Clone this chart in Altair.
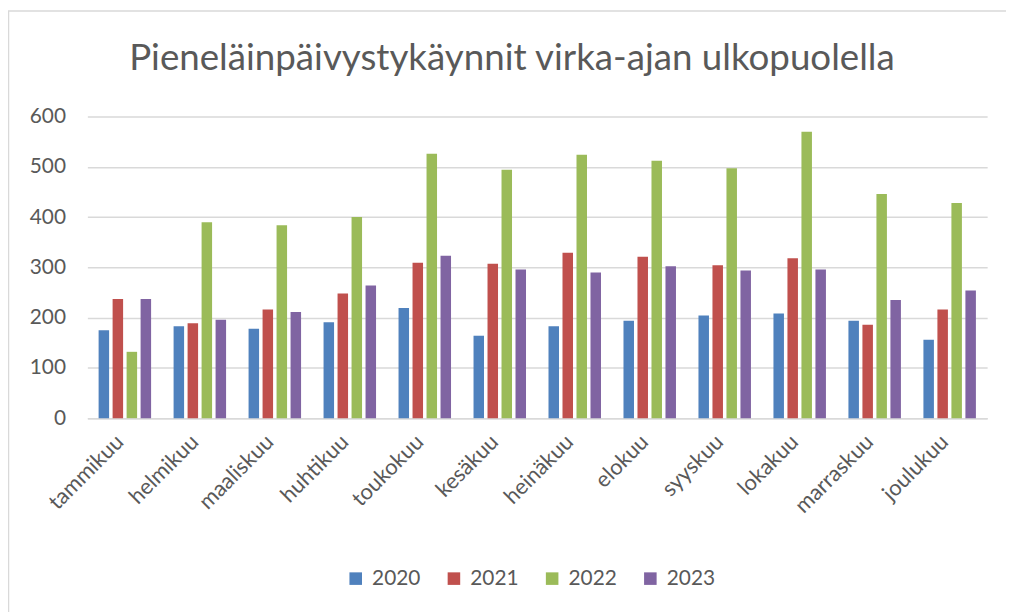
import altair as alt
import pandas as pd

months = ["tammikuu", "helmikuu", "maaliskuu", "huhtikuu", "toukokuu", "kesäkuu",
          "heinäkuu", "elokuu", "syyskuu", "lokakuu", "marraskuu", "joulukuu"]
years = ["2020", "2021", "2022", "2023"]
v2020 = [175, 183, 178, 191, 219, 164, 183, 194, 204, 208, 194, 156]
v2021 = [237, 189, 216, 248, 309, 307, 329, 321, 304, 318, 186, 216]
v2022 = [132, 390, 384, 400, 526, 494, 524, 512, 497, 570, 446, 428]
v2023 = [237, 196, 211, 264, 323, 296, 290, 302, 294, 296, 235, 254]
colors = ["#4F81BD", "#C0504D", "#9BBB59", "#8064A2"]
title_text = "Pieneläinpäivystykäynnit virka-ajan ulkopuolella"

rows = []
for y, vals in zip(years, [v2020, v2021, v2022, v2023]):
    for m, v in zip(months, vals):
        rows.append({"kuukausi": m, "vuosi": y, "arvo": v})
df = pd.DataFrame(rows)

FONT = "Lato"
GRAY = "#595959"

bars = alt.Chart(df).mark_bar().encode(
    x=alt.X("kuukausi:N", sort=months, title=None,
            scale=alt.Scale(paddingInner=0.3, paddingOuter=0.15),
            axis=alt.Axis(labelAngle=-45, labelFontSize=22, labelColor=GRAY, labelFont=FONT,
                          ticks=False, domainColor="#d9d9d9", domainWidth=1.5,
                          labelPadding=20, labelOffset=-5, labelAlign="right",
                          labelBaseline="middle")),
    xOffset=alt.XOffset("vuosi:N", sort=years, scale=alt.Scale(paddingInner=0.25)),
    y=alt.Y("arvo:Q", title=None, scale=alt.Scale(domain=[0, 600]),
            axis=alt.Axis(values=[0, 100, 200, 300, 400, 500, 600], labelFontSize=21,
                          labelColor=GRAY, labelFont=FONT, ticks=False, domain=False,
                          gridColor="#d9d9d9", gridWidth=1.5, labelPadding=22)),
    color=alt.Color("vuosi:N", sort=years, scale=alt.Scale(domain=years, range=colors),
                    legend=alt.Legend(title=None, orient="none", direction="horizontal",
                                      legendX=260, legendY=455, symbolType="square",
                                      symbolSize=160, symbolStrokeWidth=0, labelFontSize=21,
                                      labelColor=GRAY, labelFont=FONT, labelOffset=6,
                                      columnPadding=23, gridAlign="all")),
)

frame = alt.Chart(alt.Data(values=[{"a": 1}])).mark_rect(
    fillOpacity=0, stroke="#d9d9d9", strokeWidth=1.5
).encode(x=alt.value(-79.5), x2=alt.value(1000), y=alt.value(-106.5), y2=alt.value(700))

title = alt.Chart(alt.Data(values=[{"t": title_text}])).mark_text(
    font=FONT, fontSize=37, color=GRAY, align="center", baseline="alphabetic"
).encode(text="t:N", x=alt.value(428), y=alt.value(-47))

chart = alt.layer(frame, title, bars).properties(
    width=907, height=304,
    autosize=alt.AutoSizeParams(type="none"),
    padding={"left": 80, "top": 107, "right": 19, "bottom": 200},
).configure_view(stroke=None)

chart.save("out.html", embed_options={"renderer": "svg", "actions": False})
